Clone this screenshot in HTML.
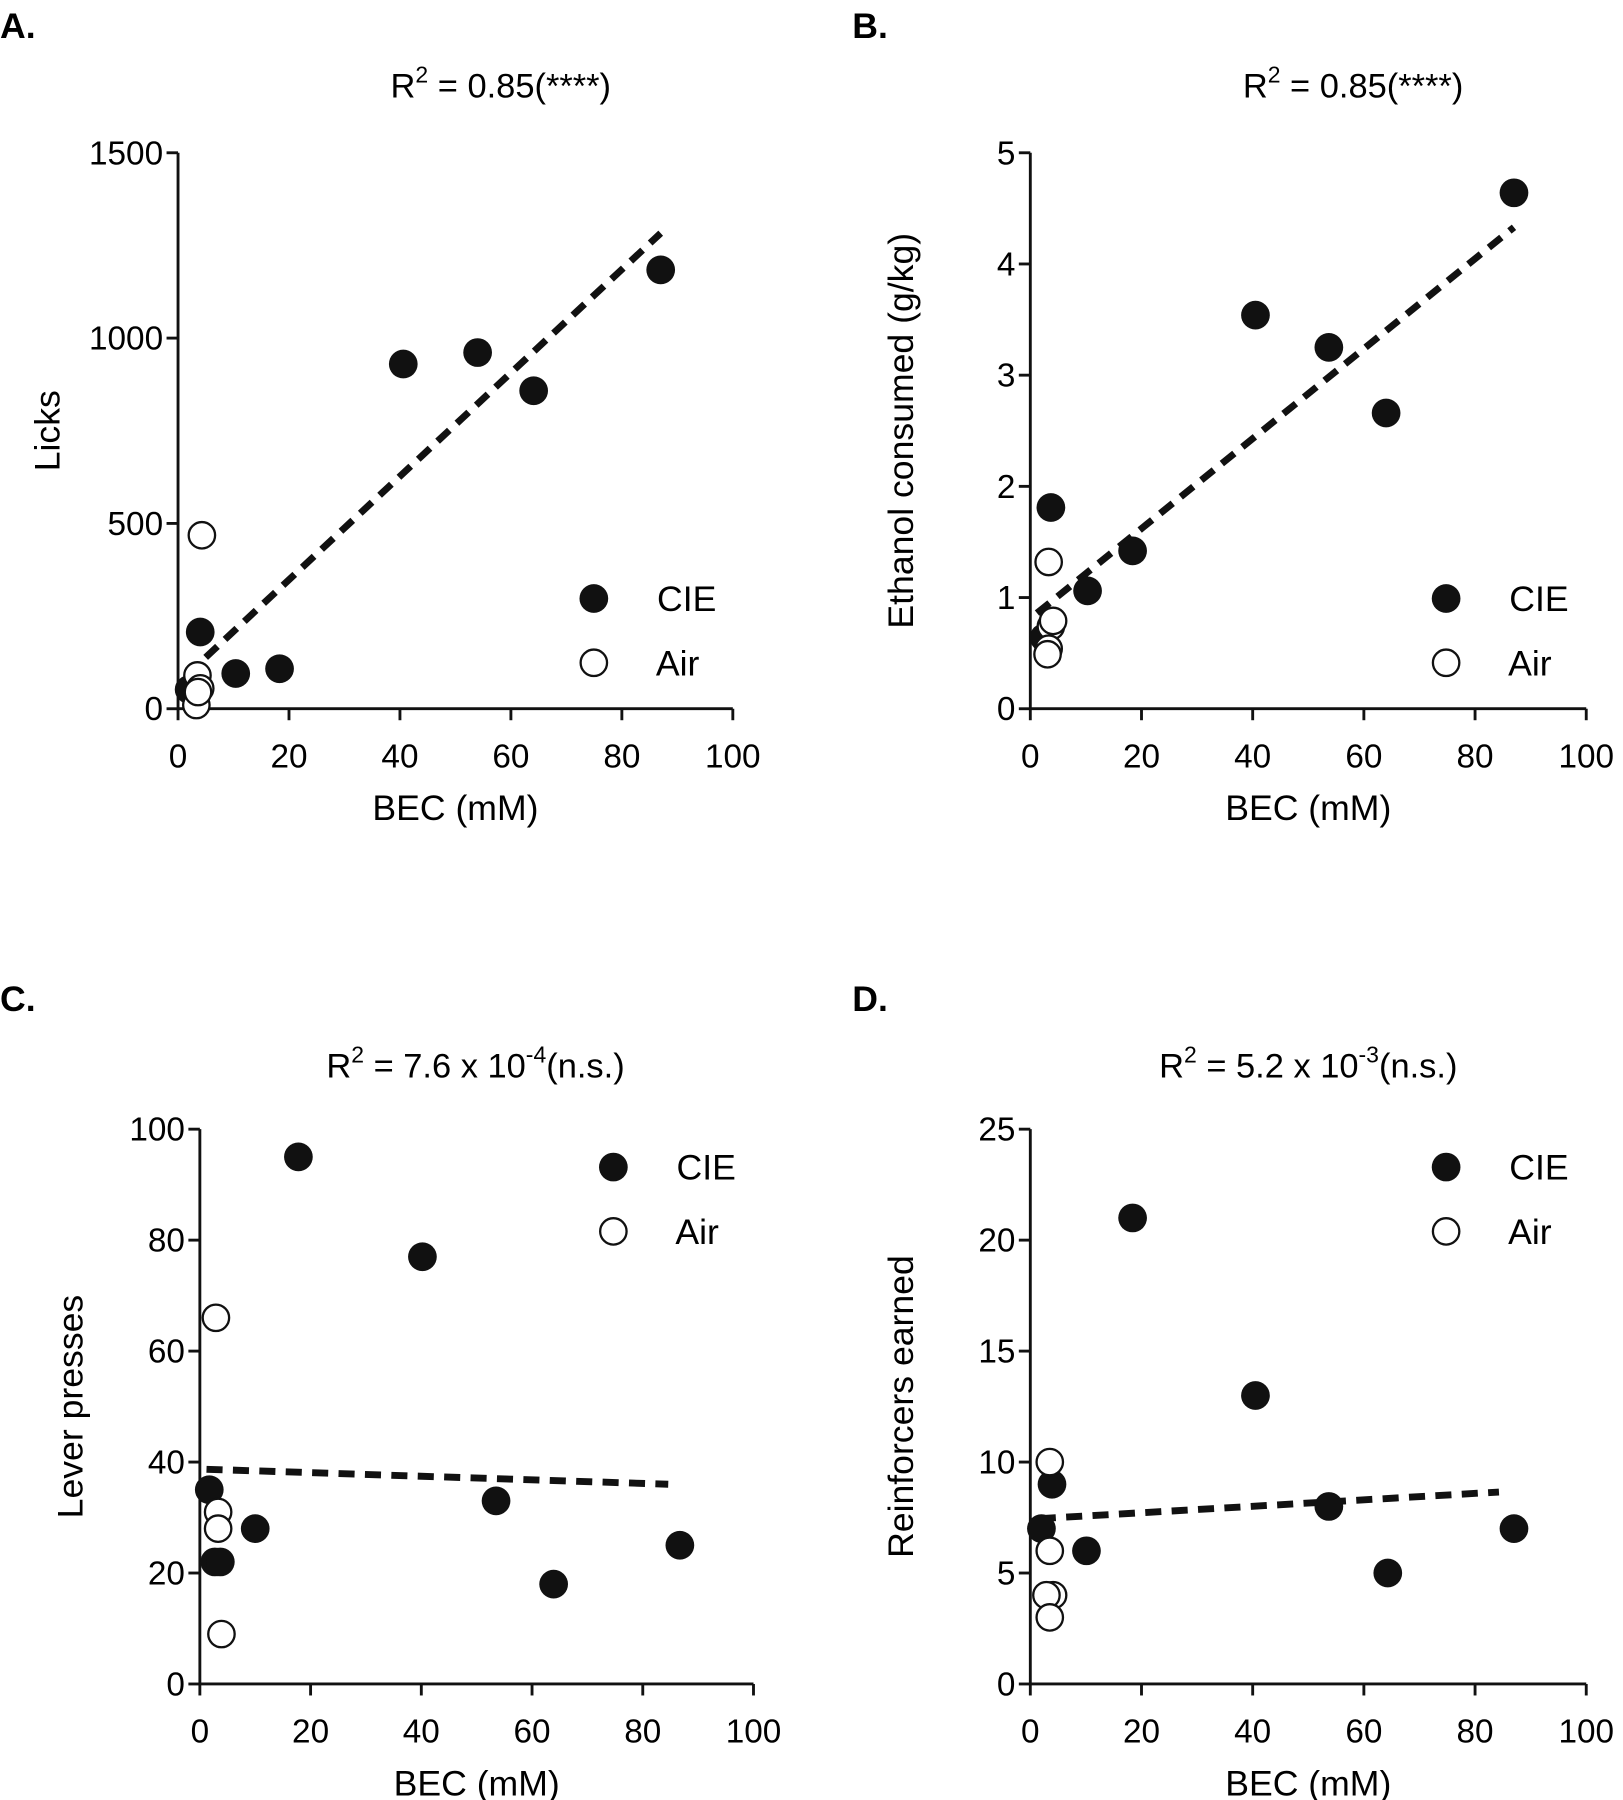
<!DOCTYPE html>
<html><head><meta charset="utf-8"><style>
html,body{margin:0;padding:0;background:#fff}
svg{display:block;font-family:"Liberation Sans",Arial,sans-serif}
</style></head><body>
<svg id="fig" width="1623" height="1800" viewBox="0 0 1413 1567" preserveAspectRatio="none" xmlns="http://www.w3.org/2000/svg"></svg>
<script>
// Panel A data
const aCieX=[2,4,10.4,18.3,40.6,54,64.1,87];
const aCieY=[52,207,95,108,930,961,858,1184];
const aAirX=[4.3,3.5,4,3.3,3.6];
const aAirY=[468,90,55,10,45];
const aFitX=[1.5,87];
const aFitY=[90,1283];
const aTicksY=[0,500,1000,1500];
// Panel B data
const bCieX=[2.5,3.7,10.3,18.4,40.5,53.7,64,87];
const bCieY=[0.64,1.81,1.06,1.42,3.54,3.25,2.66,4.64];
const bAirX=[3.3,3.7,3.3,3.1,4.1];
const bAirY=[1.32,0.74,0.54,0.49,0.79];
const bFitX=[1.2,87];
const bFitY=[0.86,4.33];
const bTicksY=[0,1,2,3,4,5];
// Panel C data
const cCieX=[1.7,2.7,3.7,10,17.8,40.2,53.5,63.9,86.7];
const cCieY=[35,22,22,28,95,77,33,18,25];
const cAirX=[2.9,3.3,3.3,3.9];
const cAirY=[66,31,28,9];
const cFitX=[1.2,84.6];
const cFitY=[38.7,36];
const cTicksY=[0,20,40,60,80,100];
// Panel D data
const dCieX=[2,3.9,10.1,18.4,40.5,53.7,64.3,87];
const dCieY=[7,9,6,21,13,8,5,7];
const dAirX=[3.5,3.5,4.1,2.9,3.5];
const dAirY=[10,6,4,4,3];
const dFitX=[1.7,84.3];
const dFitY=[7.45,8.65];
const dTicksY=[0,5,10,15,20,25];
const ticksX=[0,20,40,60,80,100];

const NS="http://www.w3.org/2000/svg";
const svg=document.getElementById('fig');
function mk(tag,attrs,parent){const e=document.createElementNS(NS,tag);for(const k in attrs)e.setAttribute(k,attrs[k]);(parent||svg).appendChild(e);return e;}

function panel(p){
  const g=mk('g',{});
  
  
  const sx=v=>p.x0+(v-0)/100*(p.x1-p.x0);
  const sy=v=>p.y0-(v/p.ymax)*(p.y0-p.y1);
  const L=mk('text',{x:p.lx,y:p.ly,'font-size':31,'font-weight':'bold'},g);L.textContent=p.id.toUpperCase()+'.';
  
  
  const T=mk('text',{x:p.tx,y:p.ty,'font-size':30,'text-anchor':'middle'},g);
  T.innerHTML=p.title;
  
  
  const ax=mk('path',{d:`M${p.x0},${p.y1}V${p.y0}H${p.x1}`,stroke:'#111','stroke-width':2.5,fill:'none'},g);
  
  
  p.ticksY.forEach(v=>{
    mk('line',{x1:p.x0-10,x2:p.x0,y1:sy(v),y2:sy(v),stroke:'#111','stroke-width':2.5},g);
    const t=mk('text',{x:p.x0-13,y:sy(v)+10,'font-size':29,'text-anchor':'end'},g);t.textContent=v;
    
    
  });
  ticksX.forEach(v=>{
    mk('line',{x1:sx(v),x2:sx(v),y1:p.y0,y2:p.y0+10,stroke:'#111','stroke-width':2.5},g);
    const t=mk('text',{x:sx(v),y:p.y0+51,'font-size':29,'text-anchor':'middle'},g);t.textContent=v;
    
    
  });
  const xl=mk('text',{x:(p.x0+p.x1)/2,y:p.y0+97,'font-size':31,'text-anchor':'middle'},g);xl.textContent='BEC (mM)';
  
  
  const yl=mk('text',{x:0,y:0,'font-size':31,'text-anchor':'middle',transform:`translate(${p.ylx},${(p.y0+p.y1)/2}) rotate(-90)`},g);yl.textContent=p.ylabel;
  
  
  const f=mk('line',{x1:sx(p.fitX[0]),y1:sy(p.fitY[0]),x2:sx(p.fitX[1]),y2:sy(p.fitY[1]),stroke:'#111','stroke-width':6,'stroke-dasharray':'14,9'},g);
  
  
  p.cieX.forEach((v,i)=>{const c=mk('circle',{cx:sx(v),cy:sy(p.cieY[i]),r:12.5,fill:'#111'},g);
    
    });
  p.airX.forEach((v,i)=>{const c=mk('circle',{cx:sx(v),cy:sy(p.airY[i]),r:11.5,fill:'#fff',stroke:'#111','stroke-width':2},g);
    
    });
  const l1=mk('circle',{cx:p.legx,cy:p.legy,r:12.5,fill:'#111'},g);
  
  
  const t1=mk('text',{x:p.legx+55,y:p.legy+11,'font-size':31},g);t1.textContent='CIE';
  
  
  const l2=mk('circle',{cx:p.legx,cy:p.legy+56,r:11.5,fill:'#fff',stroke:'#111','stroke-width':2},g);
  
  
  const t2=mk('text',{x:p.legx+54,y:p.legy+67,'font-size':31},g);t2.textContent='Air';
  
  
}
const sup=s=>`<tspan dy="-13" font-size="20">${s}</tspan><tspan dy="13">`;
panel({id:'a',x0:155,x1:638,y0:617,y1:133,ymax:1500,ticksY:aTicksY,cieX:aCieX,cieY:aCieY,airX:aAirX,airY:aAirY,fitX:aFitX,fitY:aFitY,
  lx:0,ly:33,tx:436,ty:85,title:'R'+sup('2')+' = 0.85(****)</tspan>',ylabel:'Licks',ylx:52,legx:517,legy:521});
panel({id:'b',x0:897,x1:1381,y0:617,y1:133,ymax:5,ticksY:bTicksY,cieX:bCieX,cieY:bCieY,airX:bAirX,airY:bAirY,fitX:bFitX,fitY:bFitY,
  lx:742,ly:33,tx:1178,ty:85,title:'R'+sup('2')+' = 0.85(****)</tspan>',ylabel:'Ethanol consumed (g/kg)',ylx:795,legx:1259,legy:521});
panel({id:'c',x0:174,x1:656,y0:1466,y1:983,ymax:100,ticksY:cTicksY,cieX:cCieX,cieY:cCieY,airX:cAirX,airY:cAirY,fitX:cFitX,fitY:cFitY,
  lx:0,ly:880,tx:414,ty:938,title:'R'+sup('2')+' = 7.6 x 10'+'<tspan dy="-13" font-size="20">-4</tspan><tspan dy="13">(n.s.)</tspan>',ylabel:'Lever presses',ylx:72,legx:534,legy:1016});
panel({id:'d',x0:897,x1:1381,y0:1466,y1:983,ymax:25,ticksY:dTicksY,cieX:dCieX,cieY:dCieY,airX:dAirX,airY:dAirY,fitX:dFitX,fitY:dFitY,
  lx:742,ly:880,tx:1139,ty:938,title:'R'+sup('2')+' = 5.2 x 10'+'<tspan dy="-13" font-size="20">-3</tspan><tspan dy="13">(n.s.)</tspan>',ylabel:'Reinforcers earned',ylx:795,legx:1259,legy:1016});
</script>
</body></html>
